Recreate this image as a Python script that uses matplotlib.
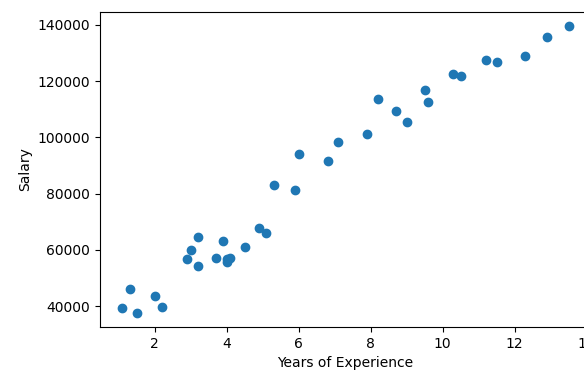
import matplotlib
matplotlib.use("Agg")
import matplotlib.pyplot as plt

years = [1.1, 1.3, 1.5, 2.0, 2.2, 2.9, 3.0, 3.2, 3.2, 3.7, 3.9, 4.0, 4.0, 4.1, 4.5,
         4.9, 5.1, 5.3, 5.9, 6.0, 6.8, 7.1, 7.9, 8.2, 8.7, 9.0, 9.5, 9.6, 10.3, 10.5,
         11.2, 11.5, 12.3, 12.9, 13.5]
salary = [39343, 46205, 37731, 43525, 39891, 56642, 60150, 54445, 64445, 57189,
          63218, 55794, 56957, 57081, 61111, 67938, 66029, 83088, 81363, 93940,
          91738, 98273, 101302, 113812, 109431, 105582, 116969, 112635, 122391,
          121872, 127345, 126756, 128765, 135675, 139465]

fig = plt.figure(figsize=(5.84, 3.76), dpi=100)
ax = fig.add_axes([100/584, 49/376, 491/584, 315/376])
ax.scatter(years, salary)
ax.set_xlabel("Years of Experience")
ax.set_ylabel("Salary")
fig.savefig("out.png", dpi=100)
